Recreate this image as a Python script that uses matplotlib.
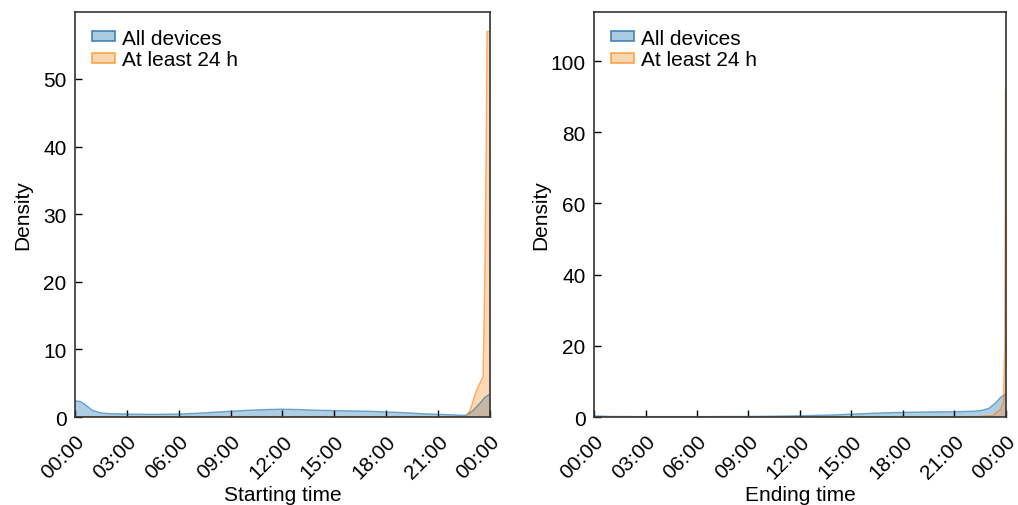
import matplotlib
matplotlib.use("Agg")
import matplotlib.pyplot as plt
from matplotlib.patches import Patch

plt.rcParams['font.family'] = ['Liberation Sans', 'DejaVu Sans']

# ---- data (hours of day, density) ----
start_all_x = [0, 0.3, 0.6, 1.0, 1.5, 2, 3, 4, 5, 6, 7, 8, 9, 10, 11, 12, 13, 14, 15, 16, 17,
               18, 19, 20, 21, 22, 22.6, 23.0, 23.4, 23.7, 24]
start_all_y = [2.4, 2.3, 1.8, 1.0, 0.6, 0.5, 0.45, 0.4, 0.4, 0.45, 0.55, 0.7, 0.85, 1.0, 1.1,
               1.15, 1.1, 1.0, 0.95, 0.9, 0.85, 0.75, 0.65, 0.5, 0.4, 0.3, 0.25, 0.9, 2.0, 2.9, 3.4]

start_24_x = [0, 22.6, 22.85, 23.0, 23.2, 23.45, 23.6, 23.7, 23.8, 23.83, 23.95, 24]
start_24_y = [0.05, 0.05, 1.0, 2.2, 3.8, 5.2, 6.0, 20.0, 45.0, 57.0, 57.0, 57.0]

end_all_x = [0, 1, 3, 6, 9, 10, 12, 14, 15, 16, 17, 18, 19, 20, 21, 22, 22.5, 23.0, 23.4, 23.7, 24]
end_all_y = [0.3, 0.15, 0.1, 0.1, 0.15, 0.2, 0.35, 0.6, 0.8, 1.0, 1.2, 1.3, 1.4, 1.45, 1.5, 1.6,
             1.8, 2.4, 4.0, 5.6, 6.5]

end_24_x = [0, 22.0, 22.8, 23.25, 23.4, 23.65, 23.75, 23.85, 23.93, 23.97, 24]
end_24_y = [0.05, 0.05, 0.3, 0.4, 1.2, 2.0, 3.0, 4.5, 20.0, 92.0, 92.0]

tick_hours = [0, 3, 6, 9, 12, 15, 18, 21, 24]
tick_labels = ["00:00", "03:00", "06:00", "09:00", "12:00", "15:00", "18:00", "21:00", "00:00"]

blue = "#1f77b4"
orange = "#ff7f0e"

fig = plt.figure(figsize=(10.18, 5.06), dpi=100)
ax1 = fig.add_axes([0.0737, 0.1739, 0.4076, 0.8004])
ax2 = fig.add_axes([0.5835, 0.1739, 0.4047, 0.8004])

panels = [
    (ax1, start_all_x, start_all_y, start_24_x, start_24_y, "Starting time", 59.9, [0, 10, 20, 30, 40, 50], -0.104),
    (ax2, end_all_x, end_all_y, end_24_x, end_24_y, "Ending time", 113.8, [0, 20, 40, 60, 80, 100], -0.107),
]

for ax, ax_x, ax_y, o_x, o_y, xlabel, ytop, yticks, ylab_x in panels:
    ax.fill_between(ax_x, ax_y, 0, facecolor=blue, alpha=0.36, linewidth=0)
    ax.plot(ax_x, ax_y, color=blue, alpha=0.6, linewidth=1.0)
    ax.fill_between(o_x, o_y, 0, facecolor=orange, alpha=0.3, linewidth=0)
    ax.plot(o_x, o_y, color=orange, alpha=0.6, linewidth=1.0)
    ax.set_xlim(0, 24)
    ax.set_ylim(0, ytop)
    ax.set_xticks(tick_hours)
    ax.set_xticklabels(tick_labels, rotation=45, ha='right', rotation_mode='anchor', fontsize=15)
    ax.set_yticks(yticks)
    ax.tick_params(axis='both', direction='in', length=5, width=1, labelsize=15)
    ax.tick_params(axis='x', pad=10)
    ax.tick_params(axis='y', pad=6)
    ax.set_xlabel(xlabel, fontsize=15)
    ax.set_ylabel("Density", fontsize=15)
    ax.yaxis.set_label_coords(ylab_x, 0.5)
    ax.xaxis.set_label_coords(0.5, -0.168)
    for s in ax.spines.values():
        s.set_color("#333333")
        s.set_linewidth(1.2)
    handles = [Patch(facecolor=(0.12, 0.47, 0.71, 0.38), edgecolor=(0.20, 0.47, 0.68, 0.9), linewidth=1.2),
               Patch(facecolor=(0.92, 0.6, 0.25, 0.4), edgecolor=(1.0, 0.55, 0.1, 0.75), linewidth=1.2)]
    ax.legend(handles, ["All devices", "At least 24 h"], loc='upper left', frameon=False,
              fontsize=15, handlelength=1.1, handleheight=0.35, handletextpad=0.35,
              labelspacing=0.12, borderaxespad=0.4)

fig.savefig("out.png", dpi=100)
